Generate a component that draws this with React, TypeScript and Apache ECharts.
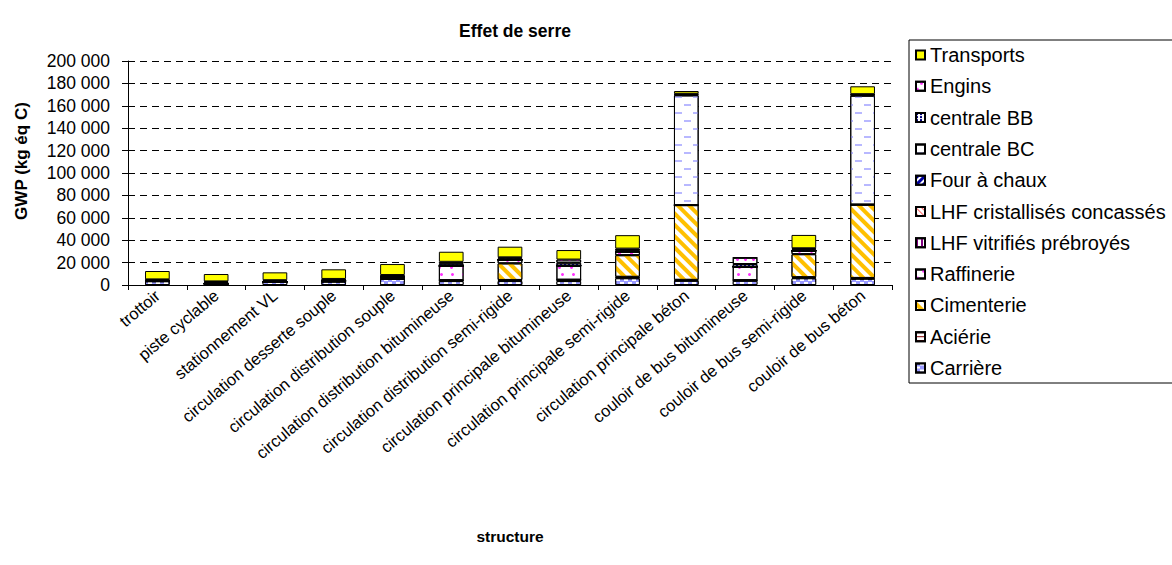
import React, { useEffect, useRef } from "react";
import * as echarts from "echarts";

const categories = [
  "trottoir",
  "piste cyclable",
  "stationnement VL",
  "circulation desserte souple",
  "circulation distribution souple",
  "circulation distribution bitumineuse",
  "circulation distribution semi-rigide",
  "circulation principale bitumineuse",
  "circulation principale semi-rigide",
  "circulation principale béton",
  "couloir de bus bitumineuse",
  "couloir de bus semi-rigide",
  "couloir de bus béton",
];

const carriere = [3300, 1200, 2800, 3000, 5500, 3500, 3500, 3500, 6000, 3800, 3800, 6000, 5500];
const acierie = [0, 0, 0, 0, 0, 800, 1000, 1200, 1300, 800, 500, 1000, 800];
const cimenterie = [0, 0, 0, 0, 0, 0, 14800, 0, 19300, 66700, 0, 20500, 65500];
const raffinerie = [0, 0, 0, 800, 1600, 12700, 3200, 12600, 3200, 0, 12000, 3100, 0];
const lhfVitrifies = [0, 0, 0, 0, 0, 0, 0, 0, 0, 0, 0, 0, 0];
const lhfCristallises = [0, 0, 0, 0, 0, 0, 0, 0, 0, 0, 0, 0, 0];
const fourAChaux = [0, 0, 0, 0, 0, 0, 0, 0, 0, 0, 0, 0, 0];
const centraleBC = [0, 0, 0, 0, 0, 0, 0, 0, 0, 98000, 0, 0, 97200];
const centraleBB = [1000, 1200, 800, 900, 1000, 2000, 1000, 2600, 1200, 800, 2400, 1200, 800];
const engins = [700, 800, 700, 700, 800, 1700, 1200, 2800, 1500, 700, 5700, 1000, 600];
const transports = [7500, 6600, 7000, 8600, 9800, 9000, 9500, 8500, 12000, 2400, 0, 11900, 7000];

const yTicks = { min: 0, max: 200000, interval: 20000 };

const FONT = "Liberation Sans, Arial, sans-serif";

function fmt(v: number) {
  return String(v).replace(/\B(?=(\d{3})+(?!\d))/g, " ");
}

export default function App() {
  const ref = useRef<HTMLDivElement>(null);
  useEffect(() => {
    if (!ref.current) return;
    const chart = echarts.init(ref.current, null, { renderer: "svg" });

    const mk = (name: string, data: number[], color: string, decal: any) => ({
      name,
      type: "bar",
      stack: "total",
      data,
      barCategoryGap: "58%",
      itemStyle: { color, borderColor: "#000", borderWidth: 1, decal },
      emphasis: { disabled: true },
    });

    const series = [
      mk("Carrière", carriere, "#9a9aff", {
        symbol: "rect", symbolSize: 1, color: "#ffffff",
        dashArrayX: [[4, 4], [0, 4, 4, 0]], dashArrayY: [2, 1],
      }),
      mk("Aciérie", acierie, "#ffffff", {
        symbol: "rect", symbolSize: 1, color: "#800000",
        dashArrayX: [1, 0], dashArrayY: [1, 3],
      }),
      mk("Cimenterie", cimenterie, "#ffffff", {
        symbol: "rect", symbolSize: 1, color: "#ffc000",
        dashArrayX: [1, 0], dashArrayY: [4, 4], rotation: Math.PI / 4,
      }),
      mk("Raffinerie", raffinerie, "#ffffff", {
        symbol: "circle", symbolSize: 1, color: "#ff33ff",
        dashArrayX: [[3, 8], [0, 5.5, 3, 2.5]], dashArrayY: [3, 4],
      }),
      mk("LHF vitrifiés prébroyés", lhfVitrifies, "#ffffff", {
        symbol: "rect", symbolSize: 1, color: "#800080",
        dashArrayX: [2, 3], dashArrayY: [1, 0],
      }),
      mk("LHF cristallisés concassés", lhfCristallises, "#ffffff", {
        symbol: "rect", symbolSize: 1, color: "#ff6666",
        dashArrayX: [1, 0], dashArrayY: [1, 3], rotation: Math.PI / 4,
      }),
      mk("Four à chaux", fourAChaux, "#ffffff", {
        symbol: "rect", symbolSize: 1, color: "#0000a0",
        dashArrayX: [1, 0], dashArrayY: [3, 2], rotation: -Math.PI / 4,
      }),
      mk("centrale BC", centraleBC, "#ffffff", {
        symbol: "rect", symbolSize: 1, color: "#b8b8ff",
        dashArrayX: [[7, 11], [0, 9, 7, 2]], dashArrayY: [2, 6],
      }),
      mk("centrale BB", centraleBB, "#ffffff", {
        symbol: "rect", symbolSize: 1, color: "#000080",
        dashArrayX: [2, 2], dashArrayY: [2, 1],
      }),
      mk("Engins", engins, "#ffffff", {
        symbol: "circle", symbolSize: 1, color: "#ff33ff",
        dashArrayX: [[3, 5], [0, 4, 3, 1]], dashArrayY: [3, 3],
      }),
      mk("Transports", transports, "#ffff00", null),
    ];

    const legendOrder = [
      "Transports", "Engins", "centrale BB", "centrale BC", "Four à chaux",
      "LHF cristallisés concassés", "LHF vitrifiés prébroyés", "Raffinerie",
      "Cimenterie", "Aciérie", "Carrière",
    ];

    chart.setOption({
      animation: false,
      backgroundColor: "#ffffff",
      title: {
        text: "Effet de serre",
        left: 510,
        textAlign: "center",
        top: 17,
        textStyle: { fontFamily: FONT, fontSize: 17.5, fontWeight: "bold", color: "#000" },
      },
      legend: {
        data: legendOrder,
        orient: "vertical",
        left: 909,
        top: 40,
        padding: [5, 24, 5, 6],
        itemWidth: 9,
        itemHeight: 9,
        itemGap: 11.3,
        icon: "rect",
        borderColor: "#000",
        borderWidth: 1,
        backgroundColor: "#fff",
        textStyle: { fontFamily: FONT, fontSize: 20, color: "#000" },
        selectedMode: false,
      },
      grid: { left: 128, top: 61, width: 764, height: 224 },
      xAxis: {
        type: "category",
        data: categories,
        axisLine: { lineStyle: { color: "#000", width: 1 } },
        axisTick: { show: true, length: 5, lineStyle: { color: "#000" } },
        axisLabel: {
          rotate: 40,
          interval: 0,
          margin: 8,
          fontFamily: FONT,
          fontSize: 16.5,
          color: "#000",
        },
        name: "structure",
        nameLocation: "middle",
        nameGap: 243,
        nameTextStyle: { fontFamily: FONT, fontSize: 15.5, fontWeight: "bold", color: "#000" },
      },
      yAxis: {
        type: "value",
        min: yTicks.min,
        max: yTicks.max,
        interval: yTicks.interval,
        axisLine: { show: true, lineStyle: { color: "#000", width: 1 } },
        axisTick: { show: true, length: 6, lineStyle: { color: "#000" } },
        axisLabel: {
          formatter: (v: number) => fmt(v),
          margin: 18,
          fontFamily: FONT,
          fontSize: 17.5,
          color: "#000",
        },
        splitLine: { show: true, lineStyle: { color: "#000", width: 1, type: [7, 5] } },
      },
      graphic: [
        {
          type: "text",
          x: 21,
          y: 161,
          rotation: Math.PI / 2,
          style: {
            text: "GWP (kg éq C)",
            font: `bold 17px ${FONT}`,
            fill: "#000",
            align: "center",
            verticalAlign: "middle",
          },
        },
      ],
      series,
    });

    return () => chart.dispose();
  }, []);

  return (
    <div
      ref={ref}
      style={{ position: "absolute", left: 0, top: 0, width: 1172, height: 565, background: "#fff" }}
    />
  );
}
